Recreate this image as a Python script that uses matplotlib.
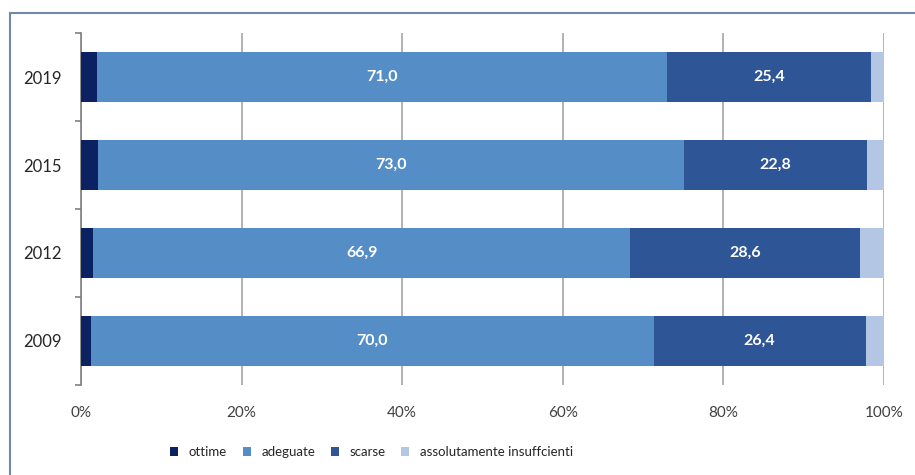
import matplotlib.pyplot as plt
from matplotlib.patches import Rectangle

plt.rcParams['font.family'] = ['Lato', 'DejaVu Sans']

years = ['2009', '2012', '2015', '2019']
ottime = [1.3, 1.5, 2.1, 2.0]
adeguate = [70.0, 66.9, 73.0, 71.0]
scarse = [26.4, 28.6, 22.8, 25.4]
insuff = [2.3, 3.0, 2.1, 1.6]

series = [ottime, adeguate, scarse, insuff]
names = ['ottime', 'adeguate', 'scarse', 'assolutamente insuffcienti']
colors = ['#0b2262', '#558ec6', '#2e5595', '#b3c7e5']
show_labels = [False, True, True, False]

fig = plt.figure(figsize=(9.15, 4.75), dpi=100)
ax = fig.add_axes([0.0885, 0.1895, 0.8776, 0.741])

# cornice del grafico
fig.patches.append(Rectangle((10 / 915, -0.2), 1.2, 1 - 13 / 475 + 0.2,
                             transform=fig.transFigure, fill=False,
                             edgecolor='#6f88ae', linewidth=1.5))

ypos = list(range(len(years)))
left = [0.0] * len(years)
for vals, name, col, lab in zip(series, names, colors, show_labels):
    bars = ax.barh(ypos, vals, left=left, height=0.57, color=col, label=name, zorder=3)
    if lab:
        for y, l, v in zip(ypos, left, vals):
            ax.text(l + v / 2, y, f'{v:.1f}'.replace('.', ','), ha='center', va='center',
                    color='white', fontsize=11.5, fontweight='bold', zorder=4)
    left = [a + b for a, b in zip(left, vals)]

ax.set_xlim(0, 100)
ax.set_ylim(-0.5, 3.5)
ax.set_xticks([0, 20, 40, 60, 80, 100])
ax.set_xticklabels(['0%', '20%', '40%', '60%', '80%', '100%'])
ax.xaxis.grid(True, color='#a6a6a6', linewidth=1.2, zorder=0)
ax.tick_params(axis='x', length=0, pad=15, labelsize=11, labelcolor='#404040')

ax.set_yticks(ypos)
ax.set_yticklabels(years)
ax.set_yticks([-0.5, 0.5, 1.5, 2.5, 3.5], minor=True)
ax.tick_params(axis='y', which='major', length=0, pad=14, labelsize=12, labelcolor='#262626')
ax.tick_params(axis='y', which='minor', length=4, color='#808080', width=1.2)

for s in ['top', 'right', 'bottom']:
    ax.spines[s].set_visible(False)
ax.spines['left'].set_color('#808080')
ax.spines['left'].set_linewidth(1.2)

ax.legend(loc='upper center', bbox_to_anchor=(0.362, -0.14), ncol=4, frameon=False,
          fontsize=9.5, handlelength=0.6, handleheight=0.6, handletextpad=0.8,
          columnspacing=1.2, labelcolor='#262626')

fig.savefig('out.png', dpi=100)
